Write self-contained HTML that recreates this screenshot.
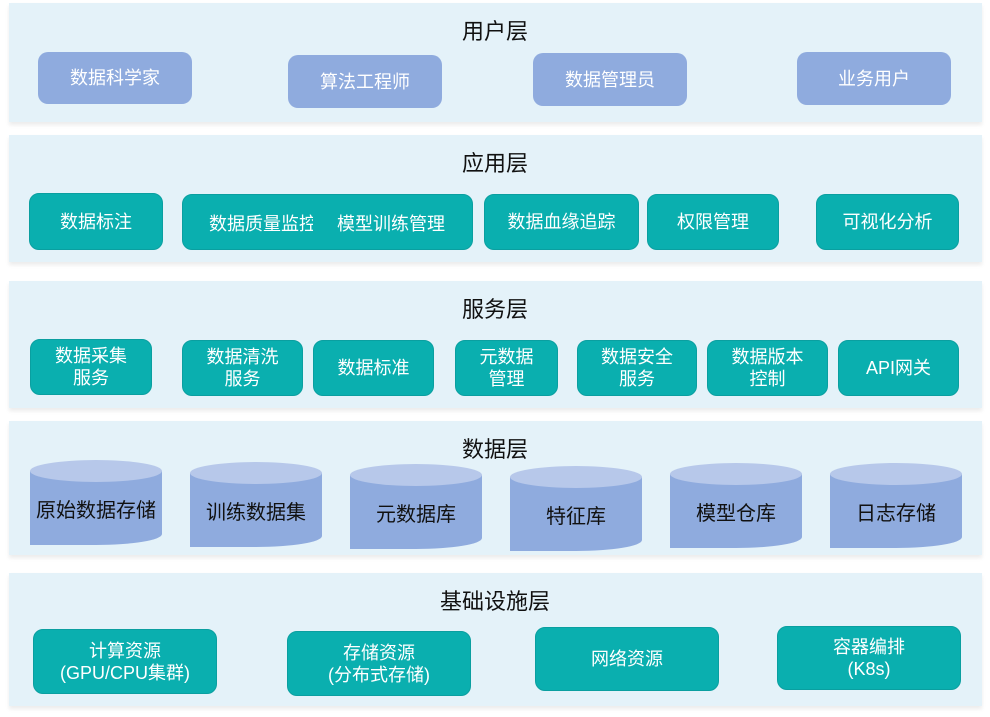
<!DOCTYPE html>
<html><head><meta charset="utf-8"><style>
body{margin:0;width:990px;height:717px;background:#fff;position:relative;overflow:hidden;font-family:"Liberation Sans","Noto Sans CJK SC",sans-serif}
.p{position:absolute;left:9px;width:973px;background:#e4f2f9;box-shadow:0 3px 4px rgba(0,0,0,0.08)}
.t{position:absolute;left:0;width:990px;text-align:center;font-size:22px;color:#111}
.b{position:absolute;display:flex;align-items:center;justify-content:center;text-align:center;color:#fff;font-size:18px;line-height:22px;border-radius:10px;box-sizing:border-box}
.u{background:#8fabde}
.g{background:#0aafaf;border:1px solid #0a9fa0}
.c{position:absolute}
.c .body{position:absolute;left:0;right:0;top:11px;bottom:0;background:#8fabde;border-radius:0 0 50%/0 0 11px 11px}
.c .top{position:absolute;left:0;right:0;top:0;height:22px;background:#b7c8ea;border-radius:50%}
.c span{position:absolute;left:0;right:0;top:34px;text-align:center;font-size:20px;color:#111;white-space:nowrap}
</style></head><body>
<div class="p" style="top:3px;height:119px"></div>
<div class="p" style="top:135px;height:127px"></div>
<div class="p" style="top:281px;height:127px"></div>
<div class="p" style="top:421px;height:134px"></div>
<div class="p" style="top:573px;height:133px"></div>

<div class="t" style="top:14px">用户层</div>
<div class="t" style="top:146px">应用层</div>
<div class="t" style="top:292px">服务层</div>
<div class="t" style="top:432px">数据层</div>
<div class="t" style="top:584px">基础设施层</div>

<div class="b u" style="left:38px;top:52px;width:154px;height:52px">数据科学家</div>
<div class="b u" style="left:288px;top:55px;width:154px;height:53px">算法工程师</div>
<div class="b u" style="left:533px;top:53px;width:154px;height:53px">数据管理员</div>
<div class="b u" style="left:797px;top:52px;width:154px;height:53px">业务用户</div>

<div class="b g" style="left:29px;top:193px;width:134px;height:57px">数据标注</div>
<div class="b g" style="left:182px;top:194px;width:291px;height:56px"></div>
<div style="position:absolute;left:209px;top:210px;width:104px;overflow:hidden;white-space:nowrap;color:#fff;font-size:18px">数据质量监控</div>
<div style="position:absolute;left:337px;top:210px;white-space:nowrap;color:#fff;font-size:18px">模型训练管理</div>
<div class="b g" style="left:484px;top:194px;width:155px;height:56px">数据血缘追踪</div>
<div class="b g" style="left:647px;top:194px;width:132px;height:56px">权限管理</div>
<div class="b g" style="left:816px;top:194px;width:143px;height:56px">可视化分析</div>

<div class="b g" style="left:30px;top:339px;width:122px;height:56px">数据采集<br>服务</div>
<div class="b g" style="left:182px;top:340px;width:121px;height:56px">数据清洗<br>服务</div>
<div class="b g" style="left:313px;top:340px;width:121px;height:56px">数据标准</div>
<div class="b g" style="left:455px;top:340px;width:103px;height:56px">元数据<br>管理</div>
<div class="b g" style="left:577px;top:340px;width:120px;height:56px">数据安全<br>服务</div>
<div class="b g" style="left:707px;top:340px;width:121px;height:56px">数据版本<br>控制</div>
<div class="b g" style="left:838px;top:340px;width:121px;height:56px">API网关</div>

<div class="c" style="left:30px;top:460px;width:132px;height:85px"><div class="body"></div><div class="top"></div><span>原始数据存储</span></div>
<div class="c" style="left:190px;top:462px;width:132px;height:85px"><div class="body"></div><div class="top"></div><span>训练数据集</span></div>
<div class="c" style="left:350px;top:464px;width:132px;height:85px"><div class="body"></div><div class="top"></div><span>元数据库</span></div>
<div class="c" style="left:510px;top:466px;width:132px;height:85px"><div class="body"></div><div class="top"></div><span>特征库</span></div>
<div class="c" style="left:670px;top:463px;width:132px;height:85px"><div class="body"></div><div class="top"></div><span>模型仓库</span></div>
<div class="c" style="left:830px;top:463px;width:132px;height:85px"><div class="body"></div><div class="top"></div><span>日志存储</span></div>

<div class="b g" style="left:33px;top:629px;width:184px;height:65px">计算资源<br>(GPU/CPU集群)</div>
<div class="b g" style="left:287px;top:631px;width:184px;height:65px">存储资源<br>(分布式存储)</div>
<div class="b g" style="left:535px;top:627px;width:184px;height:64px">网络资源</div>
<div class="b g" style="left:777px;top:626px;width:184px;height:64px">容器编排<br>(K8s)</div>
</body></html>
